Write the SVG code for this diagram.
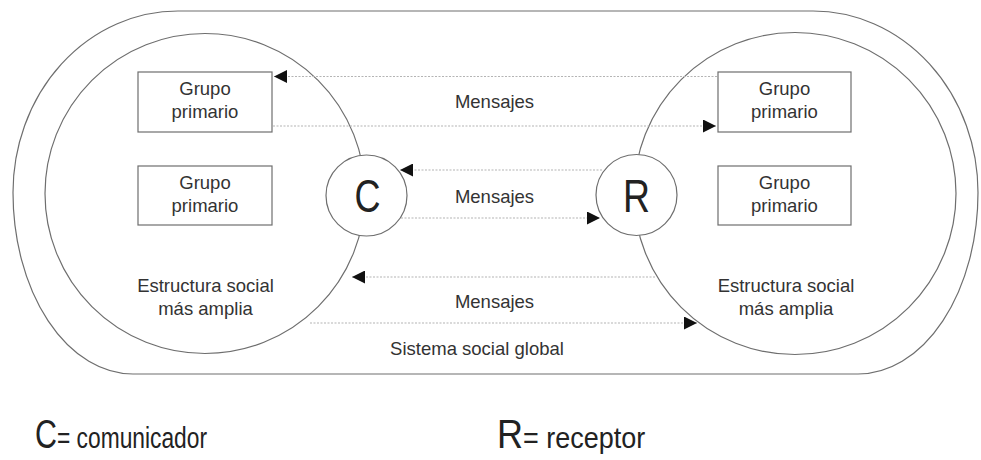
<svg xmlns="http://www.w3.org/2000/svg" width="981" height="460" viewBox="0 0 981 460">
<style>
.ln{fill:none;stroke:#6e6e6e;stroke-width:1.2}
.box{fill:#fff;stroke:#6e6e6e;stroke-width:1.2}
.node{fill:#fff;stroke:#6e6e6e;stroke-width:1.2}
.dot{fill:none;stroke:#b4b4b4;stroke-width:1.2;stroke-dasharray:2 1.5}
.t{font-family:"Liberation Sans",Arial,sans-serif;font-size:18.5px;fill:#333;text-anchor:middle}
.big{font-family:"Liberation Sans",Arial,sans-serif;fill:#222;text-anchor:middle}
.leg{font-family:"Liberation Sans",Arial,sans-serif;fill:#222}
</style>
<defs>
<marker id="ah" viewBox="0 0 10 10" refX="10" refY="5" markerWidth="13" markerHeight="13" markerUnits="userSpaceOnUse" orient="auto">
<path d="M0,0 L10,5 L0,10 Z" fill="#111"/>
</marker>
</defs>
<g id="sistema-social-global">
<path class="ln" d="M178,11 H813 A165,181.5 0 0 1 978,192.5 A120,181.5 0 0 1 858,374 H133 A120,181.5 0 0 1 13,192.5 A165,181.5 0 0 1 178,11 Z"/>
<text class="t" x="477" y="355">Sistema social global</text>
</g>
<g id="estructura-izq">
<circle class="ln" cx="205" cy="193.5" r="160"/>
<text class="t" x="205.5" y="292">Estructura social</text>
<text class="t" x="205.5" y="315">más amplia</text>
</g>
<g id="estructura-der">
<circle class="ln" cx="795" cy="193.5" r="161"/>
<text class="t" x="786" y="292">Estructura social</text>
<text class="t" x="786" y="315">más amplia</text>
</g>
<g id="grupo-izq-1">
<rect class="box" x="138" y="72" width="134" height="60"/>
<text class="t" x="205" y="95">Grupo</text>
<text class="t" x="205" y="118">primario</text>
</g>
<g id="grupo-izq-2">
<rect class="box" x="138" y="166" width="134" height="59"/>
<text class="t" x="205" y="189">Grupo</text>
<text class="t" x="205" y="212">primario</text>
</g>
<g id="grupo-der-1">
<rect class="box" x="718" y="72" width="133" height="60"/>
<text class="t" x="784.5" y="95">Grupo</text>
<text class="t" x="784.5" y="118">primario</text>
</g>
<g id="grupo-der-2">
<rect class="box" x="718" y="166" width="133" height="59"/>
<text class="t" x="784.5" y="189">Grupo</text>
<text class="t" x="784.5" y="212">primario</text>
</g>
<g id="connectors">
<line class="dot" x1="717" y1="76.5" x2="274" y2="76.5" marker-end="url(#ah)"/>
<line class="dot" x1="273" y1="126" x2="716" y2="126" marker-end="url(#ah)"/>
<line class="dot" x1="602" y1="170" x2="400" y2="170" marker-end="url(#ah)"/>
<line class="dot" x1="394" y1="218" x2="600" y2="218" marker-end="url(#ah)"/>
<line class="dot" x1="655" y1="277" x2="352" y2="277" marker-end="url(#ah)"/>
<line class="dot" x1="310" y1="323" x2="697" y2="323" marker-end="url(#ah)"/>
<text class="t" x="494.5" y="108">Mensajes</text>
<text class="t" x="494.5" y="203">Mensajes</text>
<text class="t" x="494.5" y="308">Mensajes</text>
</g>
<g id="comunicador">
<circle class="node" cx="366.5" cy="195.5" r="40.5"/>
<text class="big" x="367.5" y="212" font-size="46" textLength="26" lengthAdjust="spacingAndGlyphs">C</text>
</g>
<g id="receptor">
<circle class="node" cx="636.5" cy="195" r="40.5"/>
<text class="big" x="636.5" y="212" font-size="46" textLength="27" lengthAdjust="spacingAndGlyphs">R</text>
</g>
<g id="leyenda">
<text class="leg" transform="translate(35,448) scale(0.76,1)"><tspan font-size="40">C</tspan><tspan font-size="30">= comunicador</tspan></text>
<text class="leg" transform="translate(497,448) scale(0.9,1)"><tspan font-size="40">R</tspan><tspan font-size="30">= receptor</tspan></text>
</g>
</svg>
